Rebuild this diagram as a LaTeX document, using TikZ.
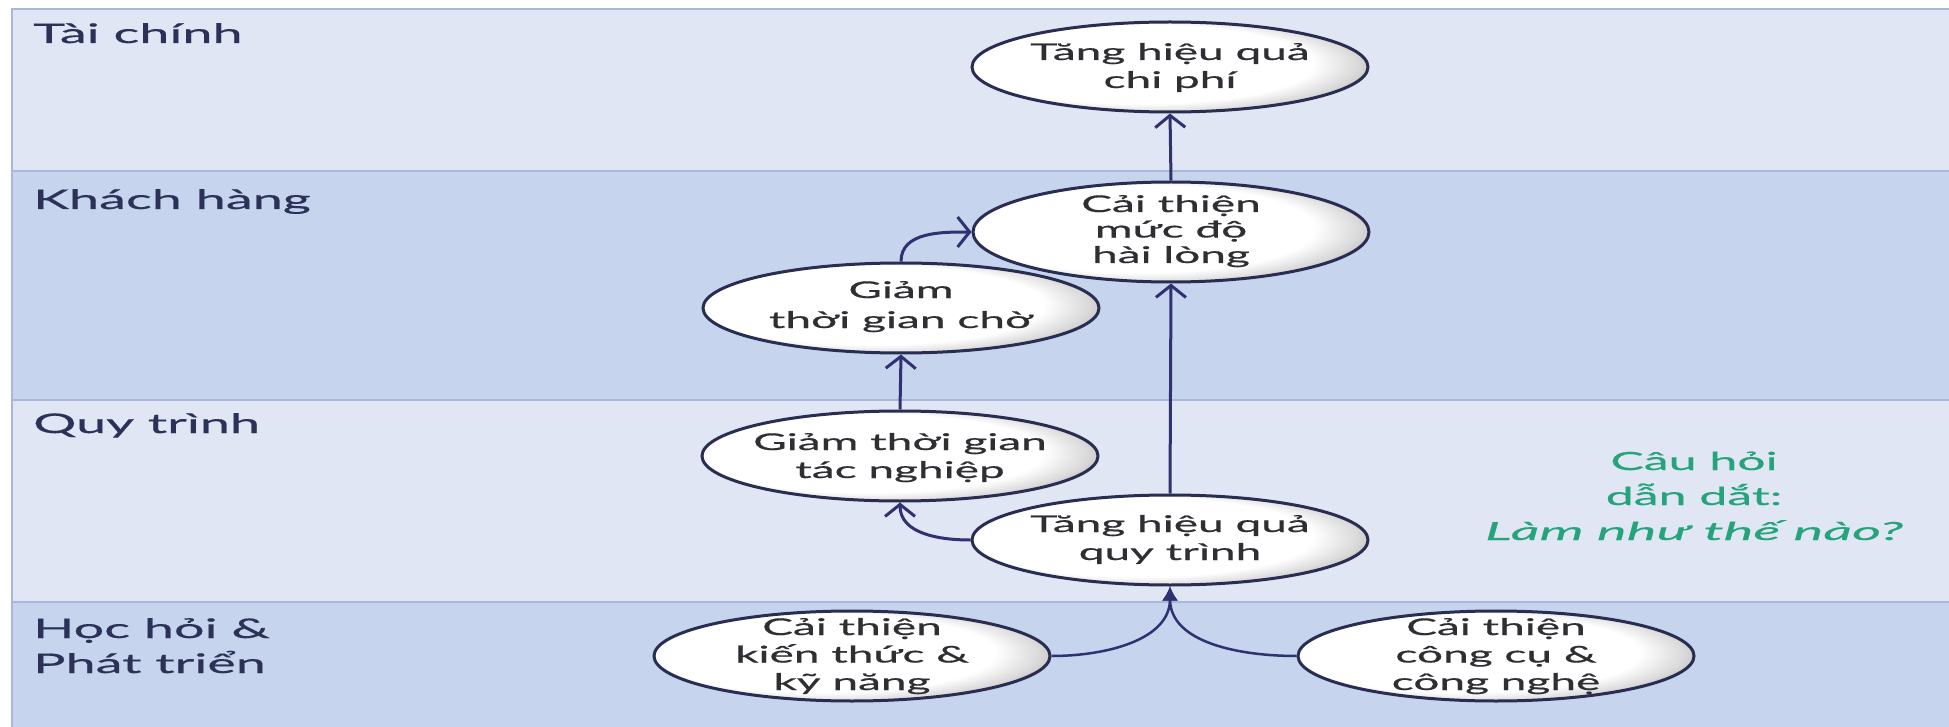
\documentclass[tikz,border=0pt]{standalone}
\usepackage{fontspec}
\setmainfont[FakeStretch=2.0,FakeBold=0.6]{Lato}
\newfontfamily\hintfont[FakeStretch=2.25,FakeBold=0.4]{Lato}
\usetikzlibrary{arrows.meta,shapes.geometric}

\definecolor{bandlight}{HTML}{E0E6F4}
\definecolor{banddark}{HTML}{C6D4EE}
\definecolor{bandrule}{HTML}{A7B8DC}
\definecolor{labelink}{HTML}{2B3157}
\definecolor{linkink}{HTML}{2F3170}
\definecolor{ovalrim}{HTML}{2A2D52}
\definecolor{ovalink}{HTML}{2E2E33}
\definecolor{hintgreen}{HTML}{25A37A}

% white body, greying towards the right-hand rim
\pgfdeclareradialshading{pearl}{\pgfpoint{-7bp}{3bp}}{color(0bp)=(white); color(22bp)=(white); color(27bp)=(black!15); color(33bp)=(black!40); color(50bp)=(black!40)}

\begin{document}
\begin{tikzpicture}[x=1pt,y=1pt,
  oval/.style={ellipse, draw=ovalrim, line width=3pt, shade, shading=pearl,
    inner sep=0pt, minimum width=396pt, minimum height=90pt},
  ovaltext/.style={anchor=base, align=center, text=ovalink, inner sep=0pt,
    font=\fontsize{23}{28}\selectfont},
  lanelabel/.style={anchor=base west, align=left, text=labelink, inner sep=0pt,
    font=\fontsize{27}{35}\selectfont},
  link/.style={draw=linkink, line width=3pt,
    -{Straight Barb[length=12pt,width=30pt]}},
  feed/.style={draw=linkink, line width=2.5pt,
    -{Latex[length=14pt,width=16pt]}}]

\useasboundingbox (0,0) rectangle (1949,-727);
\fill[white] (0,0) rectangle (1949,-727);

% perspective bands
\fill[bandlight] (12,-9)   rectangle (1949,-171);
\fill[banddark]  (12,-171) rectangle (1949,-400);
\fill[bandlight] (12,-400) rectangle (1949,-602);
\fill[banddark]  (12,-602) rectangle (1949,-727);
\draw[bandrule, line width=2pt] (12,-727) -- (12,-9) -- (1949,-9);
\foreach \yy in {171,400,602}
  \draw[bandrule, line width=1.5pt] (12,-\yy) -- (1949,-\yy);

% band titles (anchored on the baseline of the last line)
\node[lanelabel] (lfin)  at (33,-43)  {Tài chính};
\node[lanelabel] (lcus)  at (33,-209) {Khách hàng};
\node[lanelabel] (lproc) at (33,-433) {Quy trình};
\node[lanelabel] (llrn)  at (33,-673) {Học hỏi \&\\Phát triển};

% objectives
\node[oval] (A) at (1170,-67) {};
\node[oval, minimum height=100pt] (B) at (1171,-232) {};
\node[oval] (C) at (901,-308) {};
\node[oval] (D) at (900,-456) {};
\node[oval] (E) at (1170,-540) {};
\node[oval] (F) at (852,-656) {};
\node[oval] (G) at (1496,-656) {};

\node[ovaltext] (At) at (1170,-88)  {Tăng hiệu quả\\chi phí};
\node[ovaltext, font=\fontsize{23}{25.5}\selectfont] (Bt) at (1171,-263) {Cải thiện\\mức độ\\hài lòng};
\node[ovaltext, font=\fontsize{23}{30}\selectfont] (Ct) at (901,-328)  {Giảm\\thời gian chờ};
\node[ovaltext] (Dt) at (900,-478)  {Giảm thời gian\\tác nghiệp};
\node[ovaltext] (Et) at (1170,-560) {Tăng hiệu quả\\quy trình};
\node[ovaltext, font=\fontsize{23}{27.5}\selectfont] (Ft) at (852,-690)  {Cải thiện\\kiến thức \&\\kỹ năng};
\node[ovaltext, font=\fontsize{23}{27.5}\selectfont] (Gt) at (1496,-690) {Cải thiện\\công cụ \&\\công nghệ};

% guiding question
\node[anchor=base, align=center, text=hintgreen, inner sep=0pt,
  font=\fontsize{25}{35}\selectfont] (hint) at (1694,-540)
  {Câu hỏi\\dẫn dắt:\\{\hintfont\itshape Làm như thế nào?}};

% cause-and-effect links
\draw[link] (B.north) -- (A.south);
\draw[link] (E.north) -- (B.south);
\draw[link] (D.north) -- (C.south);
\draw[link] (C.north) to[out=90,in=180] (B.west);
\draw[link] (E.west) to[out=180,in=-90] (D.south);
\draw[feed] (F.east) to[out=0,in=-90] (E.south);
\draw[feed] (G.west) to[out=180,in=-90] (E.south);
\end{tikzpicture}
\end{document}
